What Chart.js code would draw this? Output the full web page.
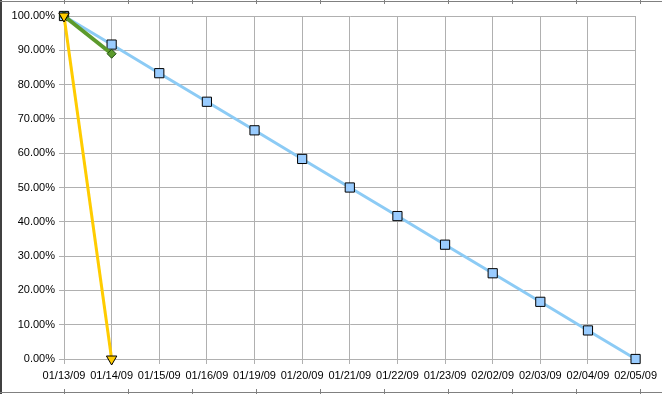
<!DOCTYPE html>
<html>
<head>
<meta charset="utf-8">
<script src="https://cdn.jsdelivr.net/npm/chart.js@4/dist/chart.umd.min.js"></script>
<style>
  html, body { margin: 0; padding: 0; background: #fff; }
  #wrap { position: relative; width: 662px; height: 394px; }
  canvas { display: block; }
</style>
</head>
<body>
<div id="wrap"><canvas id="c" width="662" height="394"></canvas></div>
<script>
const categories = ['01/13/09','01/14/09','01/15/09','01/16/09','01/19/09','01/20/09','01/21/09','01/22/09','01/23/09','02/02/09','02/03/09','02/04/09','02/05/09'];
const planned = [1.0, 0.9167, 0.8333, 0.75, 0.6667, 0.5833, 0.5, 0.4167, 0.3333, 0.25, 0.1667, 0.0833, 0.0];
const actualA = [1.0, 0.89];
const actualB = [1.0, 0.0];
const yTicks = [0, 0.1, 0.2, 0.3, 0.4, 0.5, 0.6, 0.7, 0.8, 0.9, 1.0];

const frame = {
  id: 'frame',
  afterDraw(chart) {
    const ctx = chart.ctx;
    ctx.save();
    ctx.strokeStyle = '#404040';
    ctx.lineWidth = 2;
    ctx.beginPath();
    ctx.moveTo(1, 0); ctx.lineTo(1, 394);
    ctx.stroke();
    ctx.lineWidth = 1;
    ctx.strokeStyle = '#808080';
    ctx.beginPath();
    ctx.moveTo(0, 1.5); ctx.lineTo(662, 1.5);
    ctx.moveTo(0, 392.5); ctx.lineTo(662, 392.5);
    for (let x = 64; x < 662; x += 64) {
      ctx.moveTo(x + 0.5, 0); ctx.lineTo(x + 0.5, 4);
      ctx.moveTo(x + 0.5, 389); ctx.lineTo(x + 0.5, 394);
    }
    ctx.stroke();
    ctx.restore();
  }
};

new Chart(document.getElementById('c'), {
  type: 'line',
  data: {
    labels: categories,
    datasets: [
      {
        label: 'Actual B',
        data: actualB,
        borderColor: '#ffcc00',
        backgroundColor: '#ffcc00',
        borderWidth: 3,
        pointStyle: 'triangle',
        rotation: 180,
        pointRadius: 6,
        pointBorderColor: '#000',
        pointBorderWidth: 1,
        pointBackgroundColor: '#ffcc00',
        tension: 0,
        clip: false,
        order: 0
      },
      {
        label: 'Actual A',
        data: actualA,
        borderColor: '#5c9a2c',
        backgroundColor: '#5c9a2c',
        borderWidth: 4,
        pointStyle: 'rectRot',
        pointRadius: 4.5,
        pointBorderColor: '#1e4d10',
        pointBorderWidth: 1,
        pointBackgroundColor: '#5c9a2c',
        tension: 0,
        clip: false,
        order: 1
      },
      {
        label: 'Planned',
        data: planned,
        borderColor: '#8ccbf5',
        backgroundColor: '#99ccff',
        borderWidth: 3,
        pointStyle: 'rect',
        pointRadius: 6.5,
        pointBorderColor: '#000',
        pointBorderWidth: 1,
        pointBackgroundColor: '#99ccff',
        tension: 0,
        clip: false,
        order: 2
      }
    ]
  },
  options: {
    responsive: false,
    animation: false,
    layout: { padding: { top: 16, right: 26, left: 0, bottom: 0 } },
    plugins: { legend: { display: false }, tooltip: { enabled: false } },
    scales: {
      x: {
        offset: false,
        grid: { color: '#b0b0b0', lineWidth: 1, drawTicks: true, tickLength: 5, tickColor: '#b0b0b0' },
        border: { color: '#b0b0b0' },
        ticks: {
          autoSkip: false, maxRotation: 0, minRotation: 0,
          color: '#000', padding: 5,
          font: { family: '"Liberation Sans", Arial, sans-serif', size: 11 }
        },
        afterFit(scale) { scale.height = 35; }
      },
      y: {
        min: 0, max: 1,
        afterBuildTicks(scale) { scale.ticks = yTicks.map(v => ({ value: v })); },
        grid: { color: '#b0b0b0', lineWidth: 1, drawTicks: true, tickLength: 5, tickColor: '#b0b0b0' },
        border: { color: '#b0b0b0' },
        ticks: {
          color: '#000', padding: 4,
          font: { family: '"Liberation Sans", Arial, sans-serif', size: 11 },
          callback: v => (v * 100).toFixed(2) + '%'
        },
        afterFit(scale) { scale.width = 64; }
      }
    }
  },
  plugins: [frame]
});
</script>
</body>
</html>
